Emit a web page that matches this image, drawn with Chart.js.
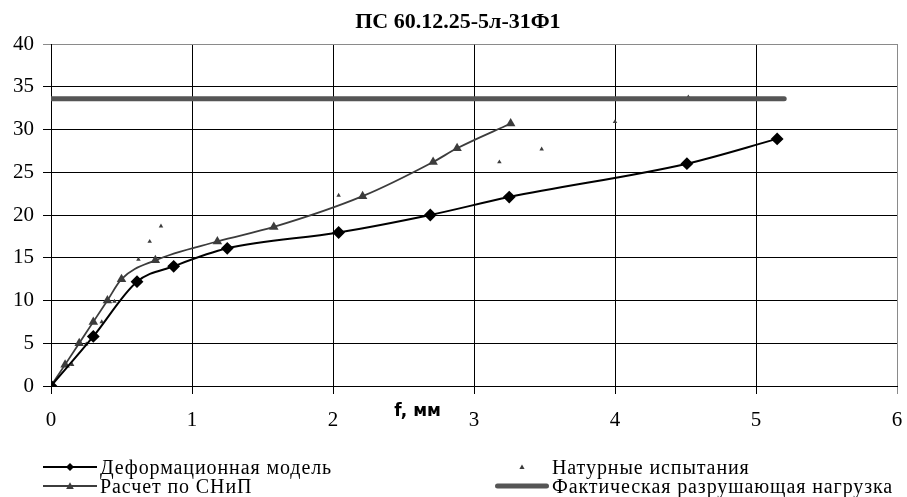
<!DOCTYPE html>
<html>
<head>
<meta charset="utf-8">
<script src="https://cdn.jsdelivr.net/npm/chart.js@4.4.1/dist/chart.umd.min.js"></script>
<style>
    html, body { margin: 0; padding: 0; background: #fff; }
    #wrap { position: relative; width: 907px; height: 497px; }
    #legend {
        position: absolute; left: 0; top: 0; width: 907px; height: 497px;
        pointer-events: none;
        font-family: "Liberation Serif", "Times New Roman", serif;
        font-size: 20px; color: #000;
    }
    .item { position: absolute; display: flex; align-items: center; height: 20px; white-space: nowrap; letter-spacing: 0.9px; }
    .item svg { margin-right: 3px; flex: none; }
</style>
</head>
<body>
<div id="wrap">
    <canvas id="chart" width="907" height="497"></canvas>
    <div id="legend"></div>
</div>
<script>
// Подписи
const chartTitle = 'ПС 60.12.25-5л-31Ф1';
const xAxisTitle = 'f, мм';
const seriesNames = [
    'Деформационная модель',
    'Расчет по СНиП',
    'Натурные испытания',
    'Фактическая разрушающая нагрузка'
];

// Деления осей
const xTicks = [0, 1, 2, 3, 4, 5, 6];
const yTicks = [0, 5, 10, 15, 20, 25, 30, 35, 40];

// Деформационная модель
const deformX = [0, 0.30, 0.61, 0.87, 1.25, 2.04, 2.69, 3.25, 4.51, 5.15];
const deformY = [0, 5.8, 12.2, 14.0, 16.1, 17.95, 20.0, 22.1, 26.0, 28.9];

// Расчет по СНиП
const snipX = [0, 0.10, 0.20, 0.30, 0.40, 0.50, 0.74, 1.18, 1.58, 2.21, 2.71, 2.88, 3.26];
const snipY = [0, 2.5, 5.0, 7.5, 10.0, 12.5, 14.7, 16.9, 18.6, 22.2, 26.2, 27.8, 30.7];

// Натурные испытания
const testX = [0, 0.15, 0.25, 0.36, 0.45, 0.62, 0.70, 0.78, 2.04, 3.18, 3.48, 4.00, 4.52];
const testY = [0, 2.5, 4.9, 7.5, 9.9, 14.8, 16.9, 18.7, 22.3, 26.2, 27.7, 30.9, 33.8];

// Фактическая разрушающая нагрузка
const failX = [0, 5.2];
const failY = [33.6, 33.6];

const toPoints = (xs, ys) => xs.map((x, i) => ({ x: x, y: ys[i] }));

const serif = '"Liberation Serif", "Times New Roman", serif';

// Стили серий (используются и в легенде)
const styles = [
    { color: '#000000', lineWidth: 2, point: 'rectRot', radius: 5 },
    { color: '#3c3c3c', lineWidth: 1.8, point: 'triangle', radius: 5.5 },
    { color: '#3c3c3c', lineWidth: 0, point: 'triangle', radius: 2.6 },
    { color: '#555555', lineWidth: 5, point: false, radius: 0 }
];

// Заголовок графика и подпись оси X
const textPlugin = {
    id: 'textPlugin',
    afterDraw(chart) {
        const { ctx, chartArea, scales } = chart;
        ctx.save();
        ctx.fillStyle = '#000';
        ctx.textAlign = 'center';
        ctx.textBaseline = 'middle';
        ctx.font = 'bold 22px ' + serif;
        ctx.fillText(chartTitle, chartArea.left + chartArea.width * 0.481, 22);
        ctx.font = 'bold 17px "DejaVu Sans", sans-serif';
        ctx.fillText(xAxisTitle, scales.x.getPixelForValue(2.6), chartArea.bottom + 26);
        ctx.restore();
    }
};

const canvas = document.getElementById('chart');
const chart = new Chart(canvas.getContext('2d'), {
    type: 'scatter',
    data: {
        datasets: [
            {
                label: seriesNames[0],
                data: toPoints(deformX, deformY),
                showLine: true,
                borderColor: styles[0].color,
                backgroundColor: styles[0].color,
                borderWidth: styles[0].lineWidth,
                pointStyle: styles[0].point,
                pointRadius: styles[0].radius,
                cubicInterpolationMode: 'monotone',
                order: 0
            },
            {
                label: seriesNames[1],
                data: toPoints(snipX, snipY),
                showLine: true,
                borderColor: styles[1].color,
                backgroundColor: styles[1].color,
                borderWidth: styles[1].lineWidth,
                pointStyle: styles[1].point,
                pointRadius: styles[1].radius,
                pointBorderWidth: 0,
                cubicInterpolationMode: 'monotone',
                order: 0
            },
            {
                label: seriesNames[2],
                data: toPoints(testX, testY),
                showLine: false,
                borderColor: styles[2].color,
                backgroundColor: styles[2].color,
                pointStyle: styles[2].point,
                pointRadius: styles[2].radius,
                pointBorderWidth: 0,
                order: 2
            },
            {
                label: seriesNames[3],
                data: toPoints(failX, failY),
                showLine: true,
                borderColor: styles[3].color,
                borderWidth: styles[3].lineWidth,
                borderCapStyle: 'round',
                pointRadius: 0,
                order: 1
            }
        ]
    },
    options: {
        responsive: false,
        animation: false,
        devicePixelRatio: 1,
        layout: { padding: { left: 0, top: 44, right: 10, bottom: 61 } },
        plugins: {
            legend: { display: false },
            title: { display: false },
            tooltip: { enabled: false }
        },
        scales: {
            x: {
                type: 'linear',
                min: xTicks[0],
                max: xTicks[xTicks.length - 1],
                afterFit: scale => {
                    scale.height = 50;
                    scale.paddingLeft = 0;
                    scale.paddingRight = 0;
                },
                afterBuildTicks: scale => { scale.ticks = xTicks.map(v => ({ value: v })); },
                ticks: {
                    color: '#000',
                    padding: 14,
                    maxRotation: 0,
                    font: { family: serif, size: 21 }
                },
                grid: {
                    color: ctx => (ctx.tick && ctx.tick.value === xTicks[xTicks.length - 1]) ? '#8a8a8a' : '#000',
                    lineWidth: 1,
                    tickLength: 8
                },
                border: { color: '#000', width: 1 }
            },
            y: {
                type: 'linear',
                min: yTicks[0],
                max: yTicks[yTicks.length - 1],
                afterFit: scale => {
                    scale.width = 51;
                    scale.paddingTop = 0;
                    scale.paddingBottom = 0;
                },
                afterBuildTicks: scale => { scale.ticks = yTicks.map(v => ({ value: v })); },
                ticks: {
                    color: '#000',
                    padding: 9,
                    font: { family: serif, size: 21 }
                },
                grid: {
                    color: ctx => (ctx.tick && ctx.tick.value === yTicks[yTicks.length - 1]) ? '#8a8a8a' : '#000',
                    lineWidth: 1,
                    tickLength: 8
                },
                border: { color: '#000', width: 1 }
            }
        }
    },
    plugins: [textPlugin]
});

// Легенда: две колонки по две строки
function legendIcon(style) {
    const w = 54, h = 16, cy = h / 2;
    let svg = `<svg width="${w}" height="${h}" xmlns="http://www.w3.org/2000/svg">`;
    if (style.lineWidth > 0) {
        const cap = style.point ? 'butt' : 'round';
        const inset = style.point ? 0 : style.lineWidth / 2;
        svg += `<line x1="${inset}" y1="${cy}" x2="${w - inset}" y2="${cy}" stroke="${style.color}" stroke-width="${style.lineWidth}" stroke-linecap="${cap}"/>`;
    }
    const cx = w / 2;
    if (style.point === 'rectRot') {
        const r = style.radius * 0.8;
        svg += `<polygon points="${cx},${cy - r} ${cx + r},${cy} ${cx},${cy + r} ${cx - r},${cy}" fill="${style.color}"/>`;
    } else if (style.point === 'triangle') {
        const r = style.lineWidth > 0 ? style.radius * 0.7 : style.radius;
        svg += `<polygon points="${cx},${cy - r} ${cx + r},${cy + r * 0.75} ${cx - r},${cy + r * 0.75}" fill="${style.color}"/>`;
    }
    return svg + '</svg>';
}

const legendSlots = [
    { left: 43, top: 457 },
    { left: 43, top: 476 },
    { left: 495, top: 457 },
    { left: 495, top: 476 }
];

const legendBox = document.getElementById('legend');
seriesNames.forEach((name, i) => {
    const el = document.createElement('div');
    el.className = 'item';
    el.style.left = legendSlots[i].left + 'px';
    el.style.top = legendSlots[i].top + 'px';
    el.innerHTML = legendIcon(styles[i]) + '<span>' + name + '</span>';
    legendBox.appendChild(el);
});
</script>
</body>
</html>
